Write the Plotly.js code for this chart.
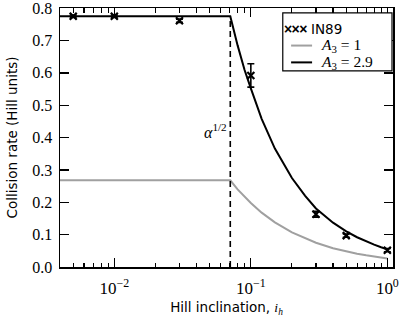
<!DOCTYPE html>
<html>
<head>
<meta charset="utf-8">
<script src="https://cdn.plot.ly/plotly-3.0.1.min.js"></script>
<style>
  html, body { margin: 0; padding: 0; background: #fff; }
  #chart { width: 407px; height: 317px; }
</style>
</head>
<body>
<div id="chart"></div>
<script>
// Hill inclination sample points for the model curves
const curveIh = [0.004, 0.0707, 0.08, 0.09, 0.1, 0.12, 0.15, 0.2, 0.25, 0.3, 0.4, 0.5, 0.6, 0.7, 0.8, 0.9, 1.0];
// Model A3 = 1 (gray)
const rateA3_1 = [0.268, 0.268, 0.240, 0.217, 0.198, 0.168, 0.138, 0.107, 0.088, 0.075, 0.058, 0.048, 0.041, 0.036, 0.032, 0.029, 0.026];
// Model A3 = 2.9 (black)
const rateA3_29 = [0.775, 0.775, 0.685, 0.609, 0.552, 0.458, 0.366, 0.275, 0.220, 0.181, 0.137, 0.110, 0.092, 0.079, 0.069, 0.061, 0.055];
// IN89 measurements
const obsIh = [0.005, 0.01, 0.03, 0.1, 0.3, 0.5, 1.0];
const obsRate = [0.775, 0.775, 0.761, 0.592, 0.163, 0.097, 0.052];
const obsErr = [0.004, 0.004, 0.005, 0.036, 0.009, 0.005, 0.005];
// alpha^(1/2) marker
const alphaHalf = 0.0707;
const alphaLineY = [0, 0.775];
// Axis ticks
const xMajor = [0.01, 0.1, 1];
const xMajorText = ['10<sup>\u22122</sup>', '10<sup>\u22121</sup>', '10<sup>0</sup>'];
const xMinor = [0.005, 0.006, 0.007, 0.008, 0.009, 0.02, 0.03, 0.04, 0.05, 0.06, 0.07, 0.08, 0.09, 0.2, 0.3, 0.4, 0.5, 0.6, 0.7, 0.8, 0.9];
const yTicks = [0, 0.1, 0.2, 0.3, 0.4, 0.5, 0.6, 0.7, 0.8];
const yTickText = ['0.0', '0.1', '0.2', '0.3', '0.4', '0.5', '0.6', '0.7', '0.8'];
// Legend labels
const legendNames = ['IN89', '<i>A</i><sub>3</sub> = 1', '<i>A</i><sub>3</sub> = 2.9'];

const serif = '"Liberation Serif", "DejaVu Serif", serif';
const sans = '"DejaVu Sans", sans-serif';
const grayCol = '#a0a0a0';

const traces = [
  {
    x: obsIh, y: obsRate, type: 'scatter', mode: 'markers', name: 'IN89', showlegend: false,
    marker: { symbol: 'x-thin', size: 7, color: '#000', line: { color: '#000', width: 2.2 } },
    error_y: { type: 'data', array: obsErr, visible: true, color: '#000', thickness: 1.6, width: 3.5 }
  },
  {
    x: curveIh, y: rateA3_1, type: 'scatter', mode: 'lines', name: 'A3 = 1', showlegend: false,
    line: { color: grayCol, width: 2 }
  },
  {
    x: curveIh, y: rateA3_29, type: 'scatter', mode: 'lines', name: 'A3 = 2.9', showlegend: false,
    line: { color: '#000', width: 2 }
  },
  {
    x: [alphaHalf, alphaHalf], y: alphaLineY, type: 'scatter', mode: 'lines',
    showlegend: false, hoverinfo: 'skip',
    line: { color: '#000', width: 1.6, dash: '6px,4px' }
  }
];

// legend box geometry (paper coordinates)
const lgX0 = 0.669, lgX1 = 0.997, lgY0 = 0.757, lgY1 = 0.981;
const rowY = [0.919, 0.855, 0.790];

const layout = {
  width: 407, height: 317,
  margin: { l: 60, r: 14, t: 8, b: 50 },
  paper_bgcolor: '#fff', plot_bgcolor: '#fff',
  showlegend: false,
  xaxis: {
    type: 'log',
    range: [Math.log10(0.004), Math.log10(1.1)],
    tickmode: 'array', tickvals: xMajor, ticktext: xMajorText,
    ticks: 'inside', ticklen: 9, tickwidth: 1.3, tickcolor: '#000',
    minor: { tickmode: 'array', tickvals: xMinor, ticks: 'inside', ticklen: 4.5, tickwidth: 1.1, tickcolor: '#000' },
    showline: true, linecolor: '#000', linewidth: 1.5, mirror: 'ticks',
    showgrid: false, zeroline: false,
    tickfont: { family: serif, size: 17, color: '#000' },
    ticklabelstandoff: 5, ticklabeloverflow: 'allow',
    title: { text: 'Hill inclination, <i style="font-family:\'Liberation Serif\'">i<sub>h</sub></i>', font: { family: sans, size: 13.5, color: '#000' }, standoff: 6 }
  },
  yaxis: {
    range: [0, 0.8005],
    tickmode: 'array', tickvals: yTicks, ticktext: yTickText,
    ticks: 'inside', ticklen: 9, tickwidth: 1.3, tickcolor: '#000',
    showline: true, linecolor: '#000', linewidth: 1.5, mirror: 'ticks',
    showgrid: false, zeroline: false,
    tickfont: { family: serif, size: 16, color: '#000' },
    ticklabelstandoff: 3, ticklabeloverflow: 'allow',
    title: { text: 'Collision rate (Hill units)', font: { family: sans, size: 13.5, color: '#000' }, standoff: 11 }
  },
  shapes: [
    { type: 'rect', xref: 'paper', yref: 'paper', x0: lgX0, x1: lgX1, y0: lgY0, y1: lgY1,
      fillcolor: '#fff', line: { color: '#000', width: 1.2 }, layer: 'above' },
    { type: 'line', xref: 'paper', yref: 'paper', x0: 0.694, x1: 0.757, y0: rowY[1], y1: rowY[1],
      line: { color: grayCol, width: 2 }, layer: 'above' },
    { type: 'line', xref: 'paper', yref: 'paper', x0: 0.694, x1: 0.757, y0: rowY[2], y1: rowY[2],
      line: { color: '#000', width: 2 }, layer: 'above' }
  ],
  annotations: [
    {
      x: Math.log10(alphaHalf), y: 0.42, xref: 'x', yref: 'y',
      text: '<i>\u03b1</i><sup>1/2</sup>', showarrow: false,
      xanchor: 'right', yanchor: 'middle', xshift: -1,
      font: { family: serif, size: 16, color: '#000' }
    },
    {
      x: 0.668, y: rowY[0], xref: 'paper', yref: 'paper',
      text: '<b><span style="letter-spacing:-0.6px">\u00d7\u00d7\u00d7</span></b>',
      showarrow: false, xanchor: 'left', yanchor: 'middle',
      font: { family: '"Liberation Sans", sans-serif', size: 14, color: '#000' }
    },
    {
      x: 0.748, y: rowY[0], xref: 'paper', yref: 'paper', text: legendNames[0],
      showarrow: false, xanchor: 'left', yanchor: 'middle',
      font: { family: sans, size: 13.5, color: '#000' }
    },
    {
      x: 0.778, y: rowY[1], xref: 'paper', yref: 'paper', text: legendNames[1],
      showarrow: false, xanchor: 'left', yanchor: 'middle',
      font: { family: serif, size: 15.5, color: '#000' }
    },
    {
      x: 0.778, y: rowY[2], xref: 'paper', yref: 'paper', text: legendNames[2],
      showarrow: false, xanchor: 'left', yanchor: 'middle',
      font: { family: serif, size: 15.5, color: '#000' }
    }
  ]
};

Plotly.newPlot('chart', traces, layout, { displayModeBar: false, staticPlot: true });
</script>
</body>
</html>
